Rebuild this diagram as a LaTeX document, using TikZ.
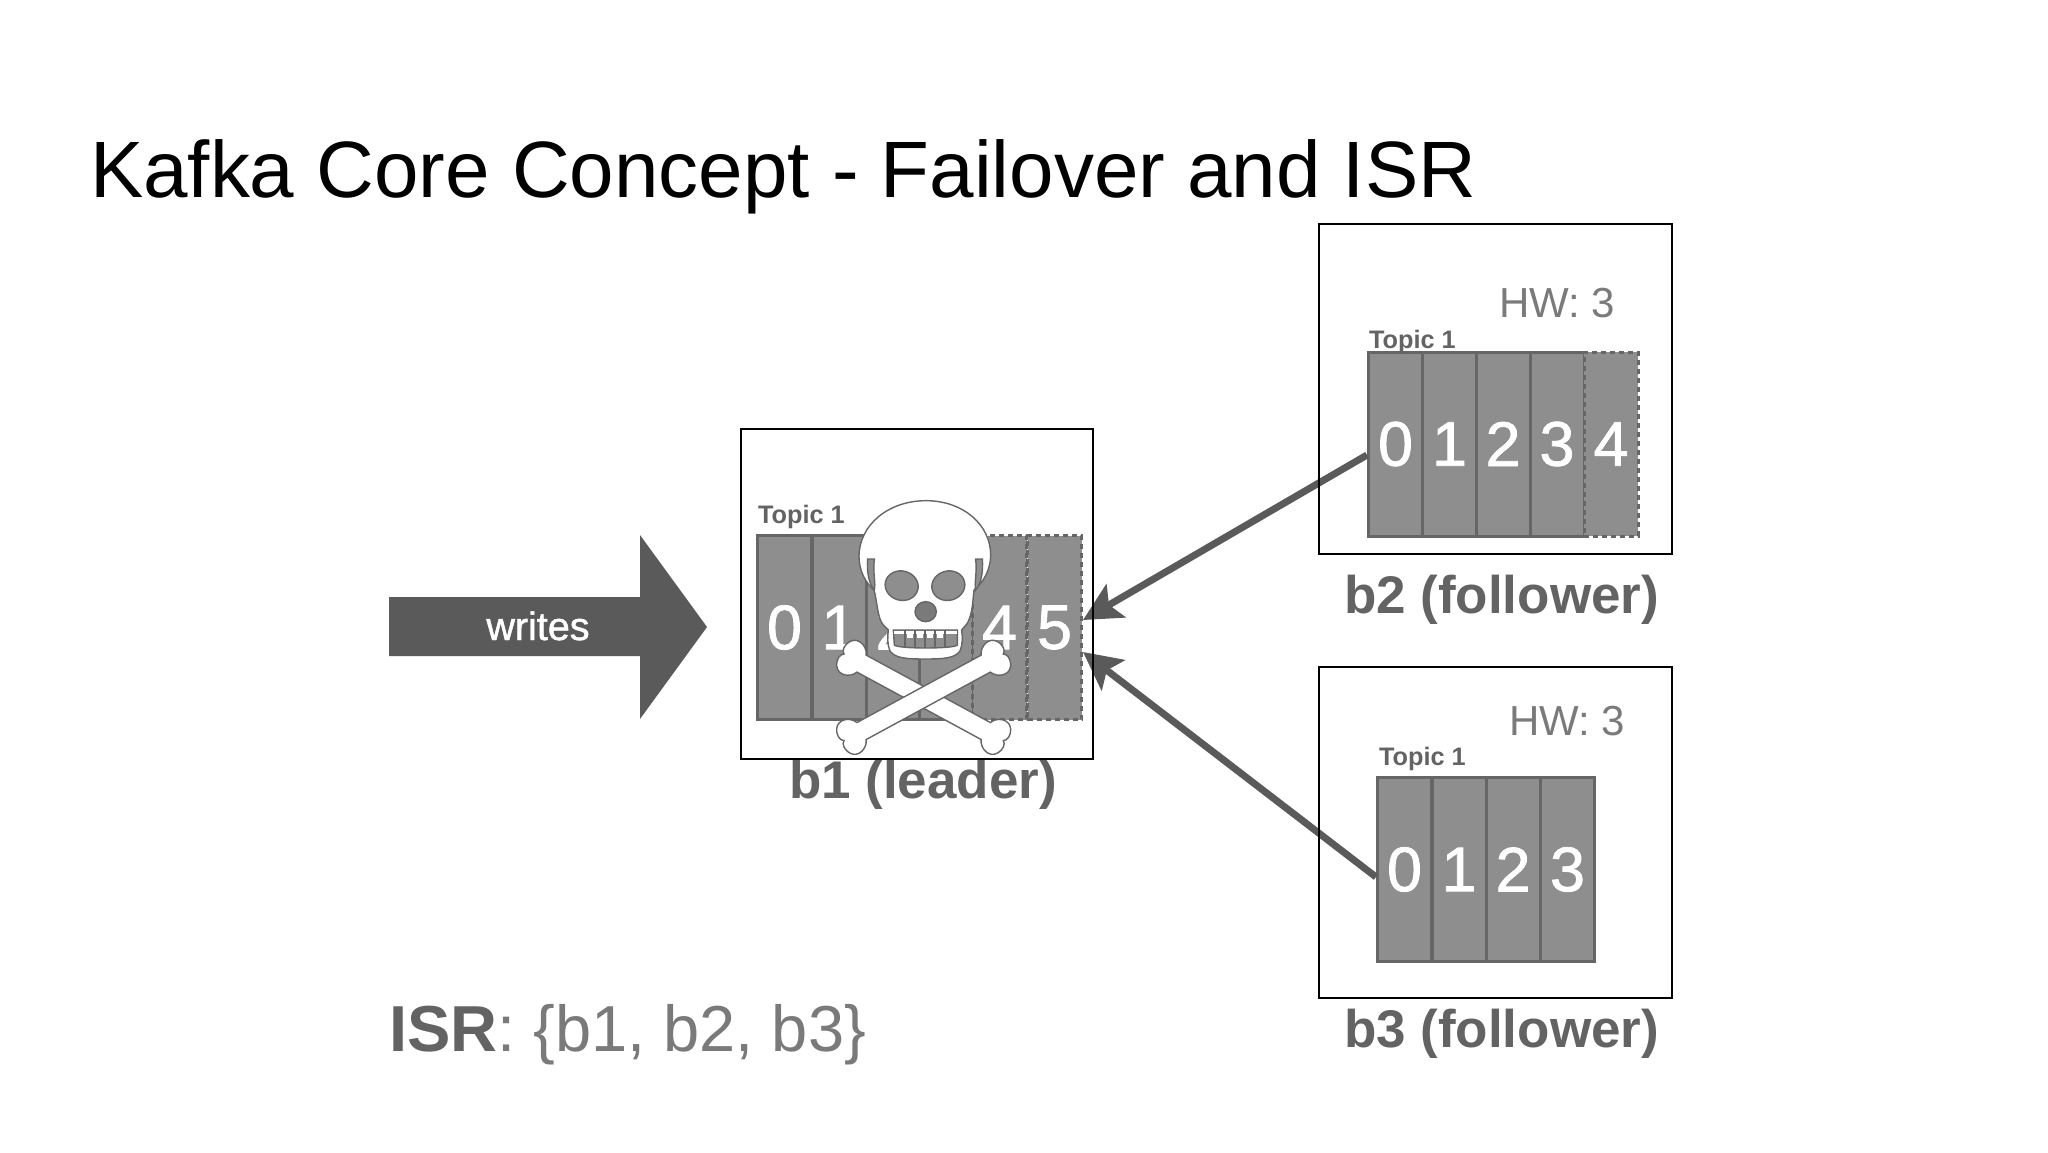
\documentclass[tikz,border=0pt]{standalone}
\usepackage{fontspec}
\setmainfont{Liberation Sans}
\newfontfamily\fatsans{Liberation Sans}[FakeBold=1.2]
\usetikzlibrary{arrows.meta}
\definecolor{cellfill}{HTML}{8E8E8E}
\definecolor{cellline}{HTML}{666666}
\definecolor{arrowgray}{HTML}{5A5A5A}
\definecolor{labelgray}{HTML}{636363}
\definecolor{hwgray}{HTML}{7A7A7A}
\tikzset{
  fs/.style={font=\fontsize{#1}{#1}\selectfont},
  fsb/.style={font=\fontsize{#1}{#1}\selectfont\bfseries},
  fsf/.style={font=\fontsize{#1}{#1}\fatsans},
  txt/.style={anchor=base west,inner sep=0pt,outer sep=0pt},
  cell/.style={draw=cellline,fill=cellfill,line width=3pt,inner sep=0pt,
    minimum width=54pt,minimum height=184pt,text=white,fsf=63},
  dashcell/.style={cell,dash pattern=on 5pt off 4pt},
  box/.style={draw=black,line width=2pt,inner sep=0pt,outer sep=0pt},
  link/.style={draw=arrowgray,line width=7pt,
    -{Stealth[length=38pt,width=38pt,inset=8pt]}},
  topic/.style={txt,fsb=25.3,text=labelgray},
  broker/.style={txt,fsb=53,text=labelgray},
  hw/.style={txt,fs=42,text=hwgray},
  skullline/.style={draw=cellline,line width=1.4pt},
  bone/.pic={
    \path[skullline,fill=white]
      (-212,29) -- (212,29)
      .. controls (222,54) and (258,66) .. (274,42)
      .. controls (286,22) and (282,6) .. (272,0)
      .. controls (282,-6) and (286,-22) .. (274,-42)
      .. controls (258,-66) and (222,-54) .. (212,-29)
      -- (-212,-29)
      .. controls (-222,-54) and (-258,-66) .. (-274,-42)
      .. controls (-286,-22) and (-282,-6) .. (-272,0)
      .. controls (-282,6) and (-286,22) .. (-274,42)
      .. controls (-258,66) and (-222,54) .. (-212,29) -- cycle;
  }
}
\begin{document}
\begin{tikzpicture}[x=1pt,y=-1pt]
\useasboundingbox (0,0) rectangle (2048,1152);
\fill[white] (0,0) rectangle (2048,1152);

\node[txt,fs=79.95,text=black] (title) at (90,197) {Kafka Core Concept - Failover and ISR};

% writes arrow
\fill[arrowgray] (389,597) -- (640,597) -- (640,535) -- (707,627) -- (640,719) -- (640,656) -- (389,656) -- cycle;
\node[txt,anchor=base,fsf=39.5,text=white] (writes) at (538,640) {writes};

% b1 partitions
\foreach \i/\cx/\d in {0/784.5/0,1/839/1,2/893/2,3/946.5/}
  \node[cell] (bA\i) at (\cx,627.5) {\raisebox{-2pt}{\d}};
\node[dashcell] (bA4) at (999.5,627.5) {\raisebox{-2pt}{4}};
\node[dashcell] (bA5) at (1054.5,627.5) {\raisebox{-2pt}{5}};
\node[topic] (topicA) at (758,523) {Topic 1};
\node[broker] (nameA) at (789,798) {b1 (leader)};

% b2 partitions
\foreach \i/\cx in {0/1395.5,1/1449.5,2/1503,3/1557}
  \node[cell] (bB\i) at (\cx,444) {\raisebox{-2pt}{\i}};
\node[dashcell] (bB4) at (1611,444) {\raisebox{-2pt}{4}};
\node[topic] (topicB) at (1369,348) {Topic 1};
\node[hw] (hwB) at (1499,317) {HW: 3};
\node[broker] (nameB) at (1344,613) {b2 (follower)};

% b3 partitions
\foreach \i/\cx in {0/1404.5,1/1459,2/1513,3/1567.5}
  \node[cell] (bC\i) at (\cx,869.5) {\raisebox{-2pt}{\i}};
\node[topic] (topicC) at (1379,765) {Topic 1};
\node[hw] (hwC) at (1509,735) {HW: 3};
\node[broker] (nameC) at (1344,1047) {b3 (follower)};

% replication arrows
\draw[link] ([yshift=-11pt]bB0.west) -- ([yshift=7.5pt]bA5.east);
\draw[link] ([yshift=-7.5pt]bC0.west) -- ([yshift=-24.5pt]bA5.east);

% broker boxes
\node[box,minimum width=352pt,minimum height=330pt] (boxA) at (917,594) {};
\node[box,minimum width=353pt,minimum height=330pt] (boxB) at (1495.5,389) {};
\node[box,minimum width=353pt,minimum height=331pt] (boxC) at (1495.5,832.5) {};

\node[txt,fs=65,text=labelgray] (isr) at (389,1051) {\textbf{ISR}\textcolor{hwgray}{: \{b1, b2, b3\}}};

% skull and bones, units are 1/3 px
\begin{scope}[shift={(850,495)},x=0.3333pt,y=-0.3333pt]
  \pic[rotate=-28.5] (boneB) at (221,607) {bone};
  \pic[rotate=28.5] (boneA) at (221,607) {bone};
  \path[skullline,fill=white] (72,285)
    .. controls (45,262) and (27,225) .. (27,185)
    .. controls (27,90) and (115,17) .. (228,17)
    .. controls (340,17) and (422,90) .. (422,180)
    .. controls (422,225) and (400,262) .. (372,285)
    .. controls (368,320) and (368,355) .. (352,385)
    -- (335,405)
    .. controls (338,425) and (338,450) .. (330,468)
    .. controls (315,490) and (280,492) .. (225,492)
    .. controls (170,492) and (135,490) .. (120,468)
    .. controls (112,450) and (112,425) .. (115,405)
    -- (100,390)
    .. controls (82,370) and (82,320) .. (72,285) -- cycle;
  % temples
  \path[skullline,fill=cellfill] (53,192) .. controls (50,230) and (56,265) .. (73,285)
    .. controls (78,265) and (68,235) .. (73,192) -- cycle;
  \path[skullline,fill=cellfill] (397,192) .. controls (400,230) and (394,265) .. (377,285)
    .. controls (372,265) and (382,235) .. (377,192) -- cycle;
  % eyes and nose
  \path[skullline,fill=cellfill,rotate around={-15:(155,272)}] (155,272) ellipse[x radius=50,y radius=44];
  \path[skullline,fill=cellfill,rotate around={15:(295,272)}] (295,272) ellipse[x radius=50,y radius=44];
  \path[skullline,fill=hwgray] (227,350) ellipse[x radius=32,y radius=30];
  % teeth
  \path[skullline,fill=cellfill] (130,405) -- (322,405) -- (322,450)
    .. controls (315,462) and (140,462) .. (133,450) -- cycle;
  \fill[white] (132,407) rectangle (320,418);
  \foreach \x in {165,195,225,255,285}
    \draw[skullline] (\x,405) -- (\x,458);
  \foreach \x in {180,210,240,270}
    \fill[white] (\x-9,418) rectangle (\x+9,430);
\end{scope}
\end{tikzpicture}
\end{document}
